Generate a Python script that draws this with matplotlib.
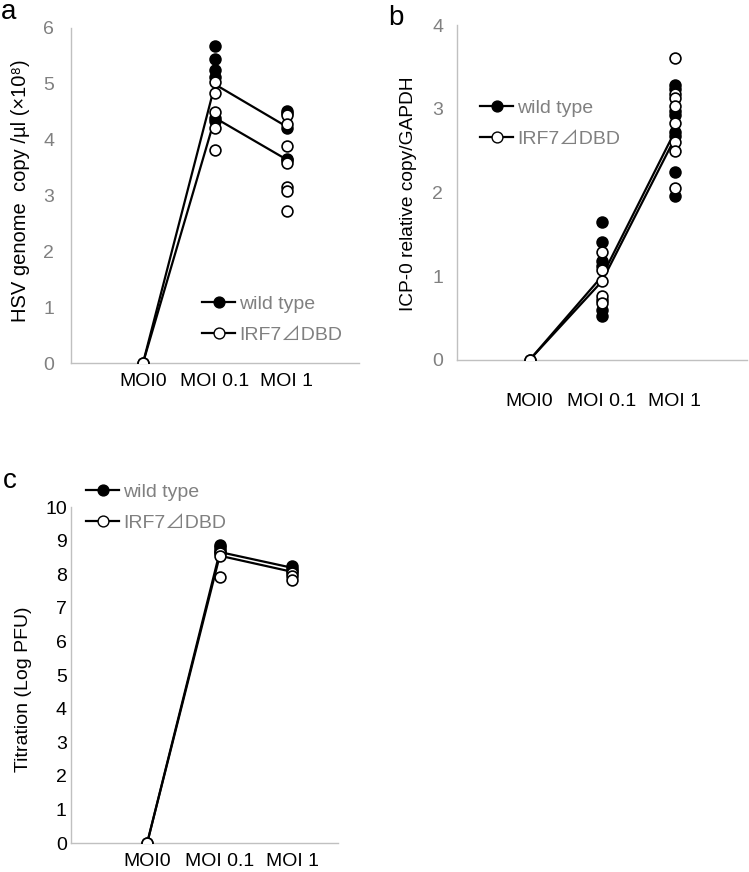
import matplotlib

matplotlib.use("Agg")
import matplotlib.pyplot as plt
from matplotlib.lines import Line2D

plt.rcParams["font.family"] = ["Liberation Sans", "DejaVu Sans"]

categories = ["MOI0", "MOI 0.1", "MOI 1"]

# panel a: HSV genome copy
a_wt_points = [[0.0], [5.67, 5.44, 5.24, 5.12, 4.39, 4.33], [4.52, 4.47, 4.20, 3.66, 3.64]]
a_ko_points = [[0.0], [5.03, 4.84, 4.49, 4.21, 3.82], [4.45, 4.28, 3.88, 3.59, 3.15, 3.08, 2.72]]
a_wt_mean = [0.0, 4.99, 4.23]
a_ko_mean = [0.0, 4.39, 3.64]

# panel b: ICP-0 relative copy
b_wt_points = [[0.0], [1.65, 1.41, 1.18, 1.12, 0.72, 0.60, 0.52],
               [3.28, 3.24, 2.97, 2.93, 2.72, 2.68, 2.24, 1.96]]
b_ko_points = [[0.0], [1.29, 1.07, 0.94, 0.76, 0.68],
               [3.60, 3.18, 3.13, 3.03, 2.83, 2.60, 2.50, 2.05]]
b_wt_mean = [0.0, 1.00, 2.72]
b_ko_mean = [0.0, 0.94, 2.64]

# panel c: titration
c_wt_points = [[0.0], [8.88, 8.80, 8.72, 8.65], [8.23, 8.16, 8.10]]
c_ko_points = [[0.0], [8.62, 8.53, 7.92], [8.04, 7.94, 7.84]]
c_wt_mean = [0.0, 8.66, 8.19]
c_ko_mean = [0.0, 8.55, 8.07]

legend_labels = ["wild type", "IRF7⊿DBD"]

GRAY = "#808080"
SPINE = "#c0c0c0"
W, H = 749, 872


def px_axes(fig, left, right, top, bottom):
    return fig.add_axes([left / W, 1 - bottom / H, (right - left) / W, (bottom - top) / H])


def draw_panel(ax, wt_pts, ko_pts, wt_mean, ko_mean):
    xs = range(len(categories))
    ax.plot(xs, wt_mean, color="black", lw=1.6, zorder=2)
    ax.plot(xs, ko_mean, color="black", lw=1.6, zorder=2)
    for i, vals in enumerate(wt_pts):
        ax.plot([i] * len(vals), vals, "o", ms=7.8, mfc="black", mec="black", mew=1.2, zorder=3)
    for i, vals in enumerate(ko_pts):
        ax.plot([i] * len(vals), vals, "o", ms=7.8, mfc="white", mec="black", mew=1.2, zorder=4)
    ax.set_xticks(list(xs), labels=categories)
    for s in ["top", "right"]:
        ax.spines[s].set_visible(False)
    for s in ["left", "bottom"]:
        ax.spines[s].set_color(SPINE)
        ax.spines[s].set_linewidth(1.0)
    ax.tick_params(length=0)
    ax.tick_params(axis="x", labelsize=14, colors="black")


def add_legend(ax, x, y):
    handles = [
        Line2D([], [], color="black", lw=1.6, marker="o", ms=7.8, mfc="black", mec="black"),
        Line2D([], [], color="black", lw=1.6, marker="o", ms=7.8, mfc="white", mec="black"),
    ]
    leg = ax.legend(handles, legend_labels, loc="upper left", bbox_to_anchor=(x / W, 1 - y / H),
                    bbox_transform=ax.figure.transFigure, frameon=False, fontsize=14,
                    labelcolor=GRAY, handlelength=1.7, handletextpad=0.2, borderpad=0,
                    borderaxespad=0, labelspacing=0.7)
    # wide triangle glyph as in the original
    for t in leg.get_texts():
        t.set_fontfamily(["Liberation Sans", "Noto Sans CJK JP", "DejaVu Sans"])


fig = plt.figure(figsize=(W / 100, H / 100), dpi=100)

# a
ax_a = px_axes(fig, 71, 359, 28, 363)
draw_panel(ax_a, a_wt_points, a_ko_points, a_wt_mean, a_ko_mean)
ax_a.set_xlim(-1, 3)
ax_a.set_ylim(0, 6)
ax_a.set_yticks(range(0, 7))
ax_a.tick_params(axis="y", labelsize=14, colors=GRAY, pad=12)
ax_a.tick_params(axis="x", pad=7)
ax_a.set_ylabel("HSV genome  copy /µl (×10⁸)", fontsize=14.5)
ax_a.yaxis.set_label_coords(-0.142, 0.513)
add_legend(ax_a, 202, 295)

# b
ax_b = px_axes(fig, 457, 747, 25, 360)
draw_panel(ax_b, b_wt_points, b_ko_points, b_wt_mean, b_ko_mean)
ax_b.set_xlim(-1, 3)
ax_b.set_ylim(0, 4)
ax_b.set_yticks(range(0, 5))
ax_b.tick_params(axis="y", labelsize=14, colors=GRAY, pad=10)
ax_b.tick_params(axis="x", pad=24)
ax_b.set_ylabel("ICP-0 relative copy/GAPDH", fontsize=13.8)
ax_b.yaxis.set_label_coords(-0.138, 0.496)
add_legend(ax_b, 480, 99)

# c
ax_c = px_axes(fig, 71, 338, 507, 843)
draw_panel(ax_c, c_wt_points, c_ko_points, c_wt_mean, c_ko_mean)
ax_c.set_xlim(-1.05, 2.63)
ax_c.set_ylim(0, 10)
ax_c.set_yticks(range(0, 11))
ax_c.tick_params(axis="y", labelsize=14, colors="black", pad=3)
ax_c.tick_params(axis="x", pad=7)
ax_c.set_ylabel("Titration (Log PFU)", fontsize=14)
ax_c.yaxis.set_label_coords(-0.146, 0.458)
add_legend(ax_c, 86, 483)

# panel letters
fig.text(1 / W, 1 - 19 / H, "a", fontsize=20, va="baseline", ha="left")
fig.text(388 / W, 1 - 25 / H, "b", fontsize=20, va="baseline", ha="left")
fig.text(3 / W, 1 - 488 / H, "c", fontsize=20, va="baseline", ha="left")

fig.savefig("out.png", dpi=100)
